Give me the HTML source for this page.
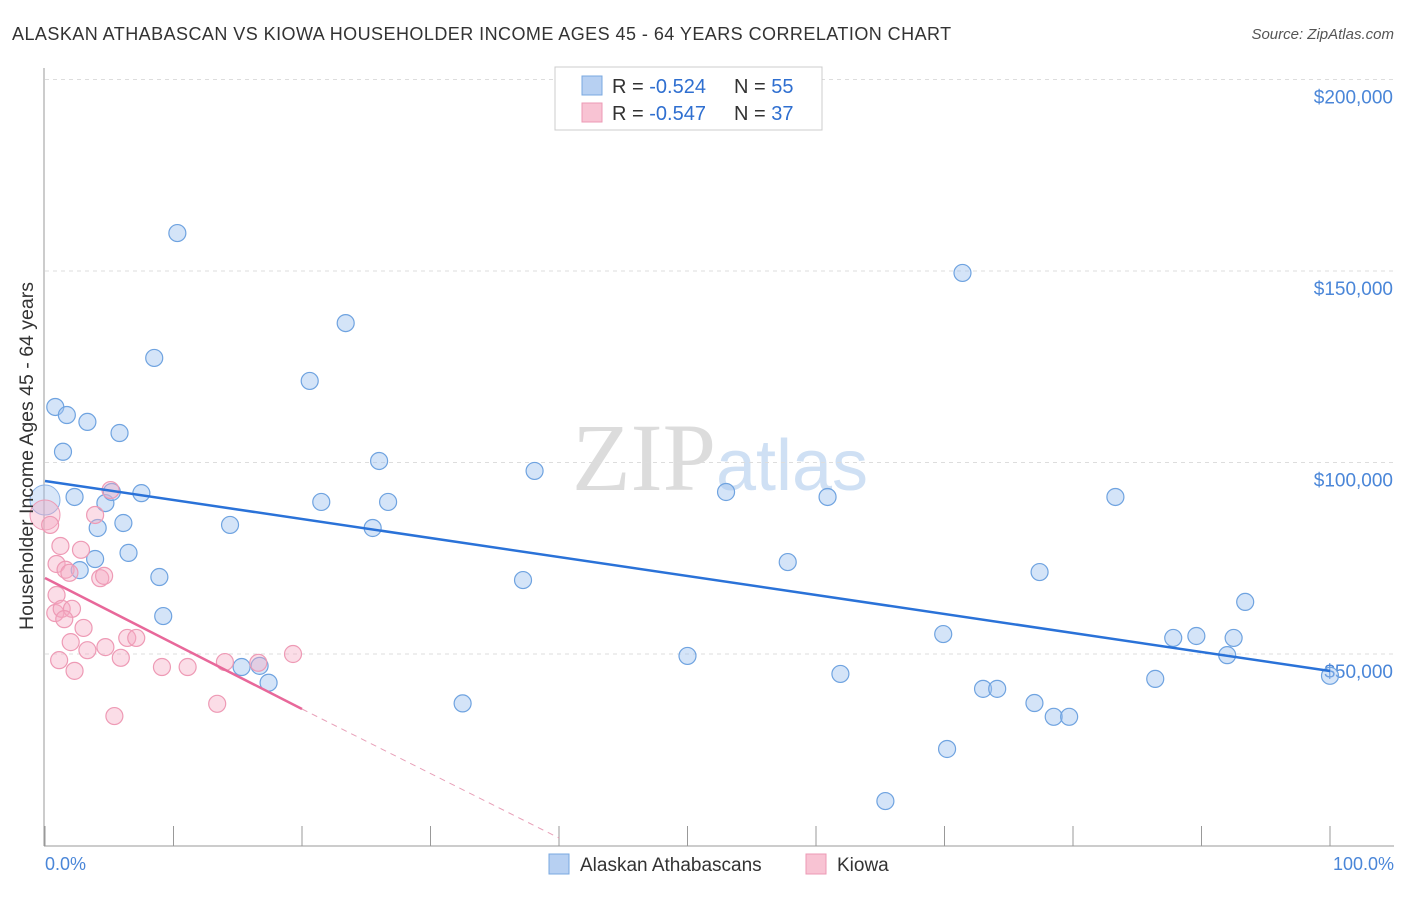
<!DOCTYPE html>
<html><head><meta charset="utf-8"><style>
body{margin:0;background:#fff;font-family:"Liberation Sans",sans-serif;}
svg text{font-family:"Liberation Sans",sans-serif;}
</style></head><body>
<svg id="chart" width="1406" height="892" xmlns="http://www.w3.org/2000/svg">
<text x="12" y="40" font-size="18" fill="#333" letter-spacing="0.45">ALASKAN ATHABASCAN VS KIOWA HOUSEHOLDER INCOME AGES 45 - 64 YEARS CORRELATION CHART</text>
<text x="1394" y="39" font-size="15" fill="#555" text-anchor="end" font-style="italic">Source: ZipAtlas.com</text>
<text x="720" y="490" font-size="96" text-anchor="middle"><tspan fill="#dcdcdc" font-family="Liberation Serif">ZIP</tspan><tspan fill="#cfe0f4" font-size="72">atlas</tspan></text>
<g id="grid"></g>
<g id="axes"></g>
<g id="pts"></g>
<g id="lines"></g>
<text transform="translate(33,456) rotate(-90)" font-size="19.5" fill="#333" text-anchor="middle">Householder Income Ages 45 - 64 years</text>
<text x="45" y="870" font-size="18" fill="#4a86d8">0.0%</text>
<text x="1394" y="870" font-size="18" fill="#4a86d8" text-anchor="end">100.0%</text>
<g>
<rect x="555" y="67" width="267" height="63" fill="#fff" stroke="#ccc"/>
<rect x="582" y="76" width="20" height="19" fill="#b7d0f2" stroke="#7aa8e0"/>
<rect x="582" y="103" width="20" height="19" fill="#f8c3d3" stroke="#ec9ab4"/>
<text x="612" y="93" font-size="20" fill="#333">R = <tspan fill="#2f6fd0">-0.524</tspan></text>
<text x="734" y="93" font-size="20" fill="#333">N = <tspan fill="#2f6fd0">55</tspan></text>
<text x="612" y="120" font-size="20" fill="#333">R = <tspan fill="#2f6fd0">-0.547</tspan></text>
<text x="734" y="120" font-size="20" fill="#333">N = <tspan fill="#2f6fd0">37</tspan></text>
</g>
<g>
<rect x="549" y="854" width="20" height="20" fill="#b7d0f2" stroke="#7aa8e0"/>
<text x="580" y="871" font-size="19" fill="#333">Alaskan Athabascans</text>
<rect x="806" y="854" width="20" height="20" fill="#f8c3d3" stroke="#ec9ab4"/>
<text x="837" y="871" font-size="19" fill="#333">Kiowa</text>
</g>
</svg>
<script>
const yTicks=[50000,100000,150000,200000];
const yTickLabels=["$50,000","$100,000","$150,000","$200,000"];
const xTicks=[0,10,20,30,40,50,60,70,80,90,100];
const blueX=[0.8,1.7,3.3,1.4,5.8,8.5,10.3,2.3,4.7,5.2,7.5,6.1,4.1,3.9,6.5,2.7,8.9,9.2,14.4,15.3,16.7,17.4,20.6,23.4,21.5,26.0,26.7,25.5,32.5,37.2,38.1,50.0,53.0,57.8,60.9,61.9,65.4,69.9,70.2,71.4,73.0,74.1,77.0,77.4,78.5,79.7,83.3,86.4,87.8,89.6,92.0,92.5,93.4,100];
const blueY=[114.5,112.4,110.6,102.8,107.7,127.3,159.9,91.0,89.4,92.3,92.0,84.2,82.9,74.8,76.4,71.9,70.1,59.9,83.7,46.6,46.9,42.5,121.3,136.4,89.7,100.4,89.7,82.9,37.1,69.3,97.8,49.5,92.3,74.0,91.0,44.8,11.6,55.2,25.2,149.5,40.9,40.9,37.2,71.4,33.6,33.6,91.0,43.5,54.2,54.7,49.7,54.2,63.6,44.3];
const pinkX=[0.4,1.2,0.9,1.6,1.9,2.8,3.9,5.1,0.9,0.8,1.3,2.1,1.5,3.0,2.0,3.3,1.1,2.3,4.3,4.6,4.7,5.9,5.4,6.4,7.1,9.1,11.1,14.0,13.4,16.6,19.3];
const pinkY=[83.7,78.2,73.5,72.0,71.2,77.2,86.3,92.8,65.4,60.7,61.8,61.8,59.1,56.8,53.1,51.0,48.4,45.6,69.8,70.4,51.8,49.0,33.8,54.2,54.2,46.6,46.6,47.9,37.0,47.7,50.0];
const blueTrend=[95170,45560];
const pinkTrend=[69840,35640,1960];
const X=p=>45+p*12.85, Y=v=>654-(v-50000)*191.5/50000;
const NS="http://www.w3.org/2000/svg";
function mk(t,a,parent){const e=document.createElementNS(NS,t);for(const k in a)e.setAttribute(k,a[k]);document.getElementById(parent).appendChild(e);return e;}
yTicks.forEach((v,i)=>{
 const l=mk('line',{x1:45,x2:1394,y1:Y(v),y2:Y(v),stroke:'#ddd','stroke-dasharray':'4,4'},'grid');
 
 
 const t=mk('text',{x:1393,y:Y(v)+24,'font-size':19,fill:'#4a86d8','text-anchor':'end'},'axes');
 t.textContent=yTickLabels[i];
 
 
});
mk('line',{x1:44,x2:44,y1:68,y2:846,stroke:'#999'},'axes');
mk('line',{x1:44,x2:1394,y1:846,y2:846,stroke:'#999'},'axes');
xTicks.forEach(p=>{const t=mk('line',{x1:X(p),x2:X(p),y1:826,y2:846,stroke:'#999'},'axes');
 
 });
mk('circle',{cx:X(0),cy:Y(90200),r:15,fill:'rgba(160,196,240,0.4)',stroke:'#8ab2e6'},'pts');
mk('circle',{cx:X(0),cy:Y(86300),r:15,fill:'rgba(245,170,195,0.4)',stroke:'#ee9ab5'},'pts');
blueX.forEach((x,i)=>{const c=mk('circle',{cx:X(x),cy:Y(blueY[i]*1000),r:8.5,fill:'rgba(160,196,240,0.45)',stroke:'#6fa3e0','stroke-width':1.2},'pts');
 
 });
pinkX.forEach((x,i)=>{const c=mk('circle',{cx:X(x),cy:Y(pinkY[i]*1000),r:8.5,fill:'rgba(245,170,195,0.4)',stroke:'#ee9ab5','stroke-width':1.2},'pts');
 
 });
const bl=mk('line',{x1:X(0),y1:Y(blueTrend[0]),x2:X(100),y2:Y(blueTrend[1]),stroke:'#2a72d8','stroke-width':2.5},'lines');


const pl=mk('line',{x1:X(0),y1:Y(pinkTrend[0]),x2:X(20),y2:Y(pinkTrend[1]),stroke:'#e8689a','stroke-width':2.5},'lines');


const pd=mk('line',{x1:X(20),y1:Y(pinkTrend[1]),x2:X(40),y2:Y(pinkTrend[2]),stroke:'#e8a0b8','stroke-width':1,'stroke-dasharray':'6,5'},'lines');


</script>
</body></html>
